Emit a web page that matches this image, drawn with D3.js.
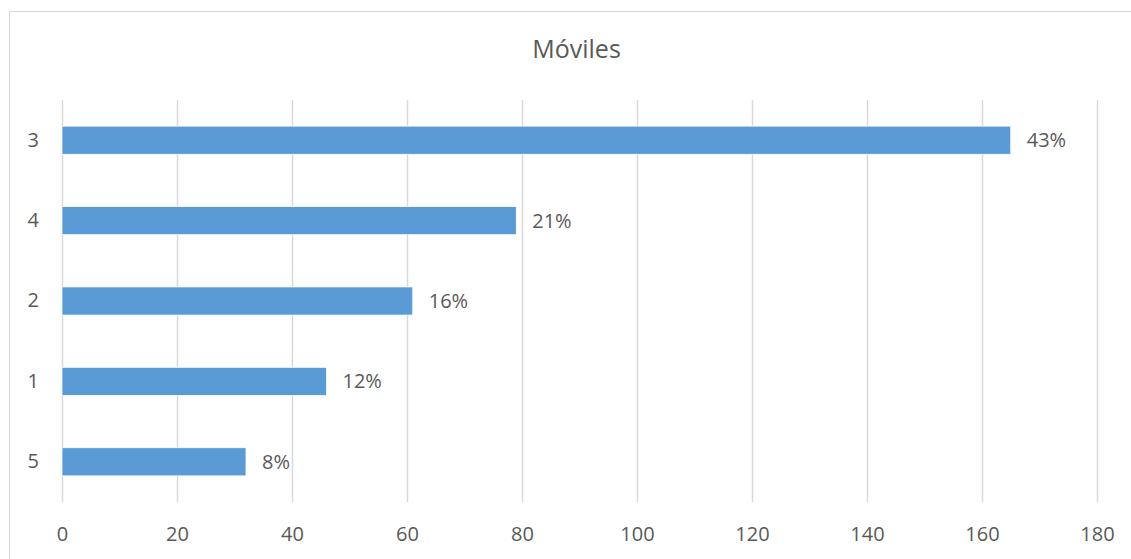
<!DOCTYPE html>
<html>
<head>
<meta charset="utf-8">
<script src="https://cdn.jsdelivr.net/npm/d3@7"></script>
<style>
  html, body { margin: 0; padding: 0; background: #fff; }
  svg { display: block; }
  text { font-family: "Open Sans", "Noto Sans", sans-serif; fill: #595959; }
</style>
</head>
<body>
<svg id="chart" width="1131" height="559"></svg>
<script>
// Responses per rating, sorted by count
const categories = ["3", "4", "2", "1", "5"];
const counts = [165, 79, 61, 46, 32];
const percentLabels = ["43%", "21%", "16%", "12%", "8%"];
const xTicks = [0, 20, 40, 60, 80, 100, 120, 140, 160, 180];
const chartTitle = "Móviles";

const svg = d3.select("#chart");
const W = 1131, H = 559;
const margin = { left: 62, right: 34, top: 100, bottom: 57 };

// chart frame
svg.append("rect")
  .attr("x", 9.5).attr("y", 11.5)
  .attr("width", W + 20).attr("height", H + 20)
  .attr("fill", "#fff").attr("stroke", "#d9d9d9").attr("stroke-width", 1);

const x = d3.scaleLinear().domain([0, 180]).range([margin.left, W - margin.right]);
const y = d3.scaleBand().domain(categories)
  .range([margin.top, H - margin.bottom]).paddingInner(0.65).paddingOuter(0.325);

// vertical gridlines
svg.append("g").selectAll("line").data(xTicks).join("line")
  .attr("x1", d => Math.round(x(d)) + 0.5).attr("x2", d => Math.round(x(d)) + 0.5)
  .attr("y1", margin.top).attr("y2", H - margin.bottom)
  .attr("stroke", "#d9d9d9").attr("stroke-width", 1.5);

// bottom axis labels
const xAxis = d3.axisBottom(x).tickValues(xTicks).tickSize(0).tickPadding(0);
const gx = svg.append("g").attr("transform", `translate(0,${H - margin.bottom + 25})`).call(xAxis);
gx.select(".domain").remove();
gx.selectAll("text").style("font-size", "20px").attr("dy", "0.71em").attr("fill", "#595959");

// left axis labels
const yAxis = d3.axisLeft(y).tickSize(0).tickPadding(23);
const gy = svg.append("g").attr("transform", `translate(${margin.left},0)`).call(yAxis);
gy.select(".domain").remove();
gy.selectAll("text").style("font-size", "20px").attr("fill", "#595959");

// bars
svg.append("g").selectAll("rect").data(categories).join("rect")
  .attr("x", x(0))
  .attr("y", d => y(d))
  .attr("width", (d, i) => x(counts[i]) - x(0))
  .attr("height", y.bandwidth())
  .attr("fill", "#5b9bd5")
  .attr("stroke", "#ffffff").attr("stroke-width", 0.75);

// value labels
svg.append("g").selectAll("text").data(categories).join("text")
  .attr("x", (d, i) => x(counts[i]) + 16)
  .attr("y", d => y(d) + y.bandwidth() / 2)
  .attr("dy", "0.35em")
  .style("font-size", "20px")
  .text((d, i) => percentLabels[i]);

// title
svg.append("text")
  .attr("x", (x(0) + x(180)) / 2 - 3).attr("y", 49)
  .attr("text-anchor", "middle").attr("dy", "0.35em")
  .style("font-size", "25px")
  .text(chartTitle);
</script>
</body>
</html>
